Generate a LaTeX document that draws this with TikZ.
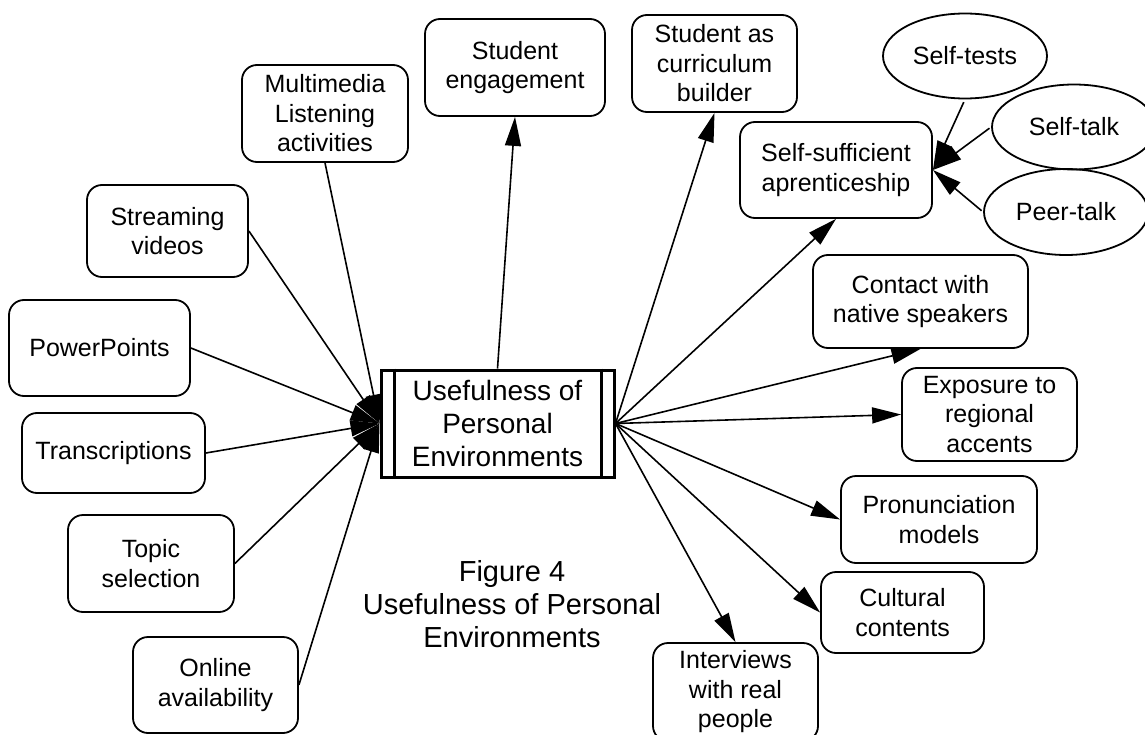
\documentclass[tikz,border=0pt]{standalone}
\usepackage{fontspec}
\setmainfont{Liberation Sans}
\usetikzlibrary{arrows.meta,shapes.geometric}
\begin{document}
\begin{tikzpicture}[x=1pt,y=-1pt,
  box/.style={draw,line width=1.8pt,rounded corners=15pt,align=center,inner sep=0pt,
    font=\fontsize{25pt}{29.5pt}\selectfont},
  oval/.style={draw,line width=1.8pt,ellipse,align=center,inner sep=0pt,
    font=\fontsize{25pt}{29.5pt}\selectfont},
  arr/.style={line width=1.6pt,-{Triangle[length=29pt,width=16pt]}}]
\useasboundingbox (0,0) rectangle (1145,735);
\fill[white] (0,0) rectangle (1145,735);

% centre
\node[draw,line width=3pt,inner sep=0pt,minimum width=233pt,minimum height=107pt,align=center,
  font=\fontsize{28pt}{33pt}\selectfont] (c) at (497.5,423.5) {Usefulness of\\Personal\\Environments};
\draw[line width=2.2pt] ([xshift=15pt]c.north west) -- ([xshift=15pt]c.south west);
\draw[line width=2.2pt] ([xshift=-14pt]c.north east) -- ([xshift=-14pt]c.south east);

% left nodes
\node[box,minimum width=166pt,minimum height=97pt] (mm) at (325,113.5) {Multimedia\\Listening\\activities};
\node[box,minimum width=161pt,minimum height=92pt] (sv) at (167.5,231) {Streaming\\videos};
\node[box,minimum width=181pt,minimum height=96pt] (pp) at (99.5,348) {PowerPoints};
\node[box,minimum width=183pt,minimum height=80pt] (tr) at (113.5,453) {Transcriptions};
\node[box,minimum width=166pt,minimum height=97pt] (ts) at (151,563.5) {Topic\\selection};
\node[box,minimum width=165pt,minimum height=96pt] (oa) at (215.5,685) {Online\\availability};

% top / right nodes
\node[box,minimum width=180pt,minimum height=97pt] (se) at (515,67.5) {Student\\engagement};
\node[box,minimum width=165pt,minimum height=97pt] (cb) at (714.5,63.5) {Student as\\curriculum\\builder};
\node[box,minimum width=192pt,minimum height=96pt] (ss) at (836,170) {Self-sufficient\\aprenticeship};
\node[box,minimum width=215pt,minimum height=93pt] (cn) at (920.5,301.5) {Contact with\\native speakers};
\node[box,minimum width=175pt,minimum height=93pt] (ex) at (989.5,414.5) {Exposure to\\regional\\accents};
\node[box,minimum width=196pt,minimum height=87pt] (pm) at (939,519.5) {Pronunciation\\models};
\node[box,minimum width=163pt,minimum height=81pt] (cc) at (902.5,612.5) {Cultural\\contents};
\node[box,minimum width=165pt,minimum height=98pt] (iv) at (735.5,692) {Interviews\\with real\\people};

% ellipses
\node[oval,minimum width=164pt,minimum height=85pt] (st) at (965,56) {Self-tests};
\node[oval,minimum width=164pt,minimum height=85pt] (sk) at (1074,127) {Self-talk};
\node[oval,minimum width=164pt,minimum height=86pt] (pt) at (1066,212) {Peer-talk};

% caption
\node[align=center,inner sep=0pt,font=\fontsize{29pt}{33pt}\selectfont] (cap) at (512,604)
  {Figure 4\\Usefulness of Personal\\Environments};

% connectors into centre
\draw[arr] (mm.south) -- (c.west);
\draw[arr] (sv.east) -- (c.west);
\draw[arr] (pp.east) -- (c.west);
\draw[arr] (tr.east) -- (c.west);
\draw[arr] (ts.east) -- (c.west);
\draw[arr] (oa.east) -- (c.west);

% connectors out of centre
\draw[arr] (c.north) -- (se.south);
\draw[arr] (c.east) -- (cb.south);
\draw[arr] (c.east) -- (ss.south);
\draw[arr] (c.east) -- (cn.south);
\draw[arr] (c.east) -- (ex.west);
\draw[arr] (c.east) -- (pm.west);
\draw[arr] (c.east) -- (cc.west);
\draw[arr] (c.east) -- (iv.north);

% ellipses into self-sufficient
\draw[arr,shorten <=3pt] (st.south) -- (ss.east);
\draw[arr,shorten <=2pt] (sk.west) -- (ss.east);
\draw[arr,shorten <=2pt] (pt.west) -- (ss.east);
\end{tikzpicture}
\end{document}
